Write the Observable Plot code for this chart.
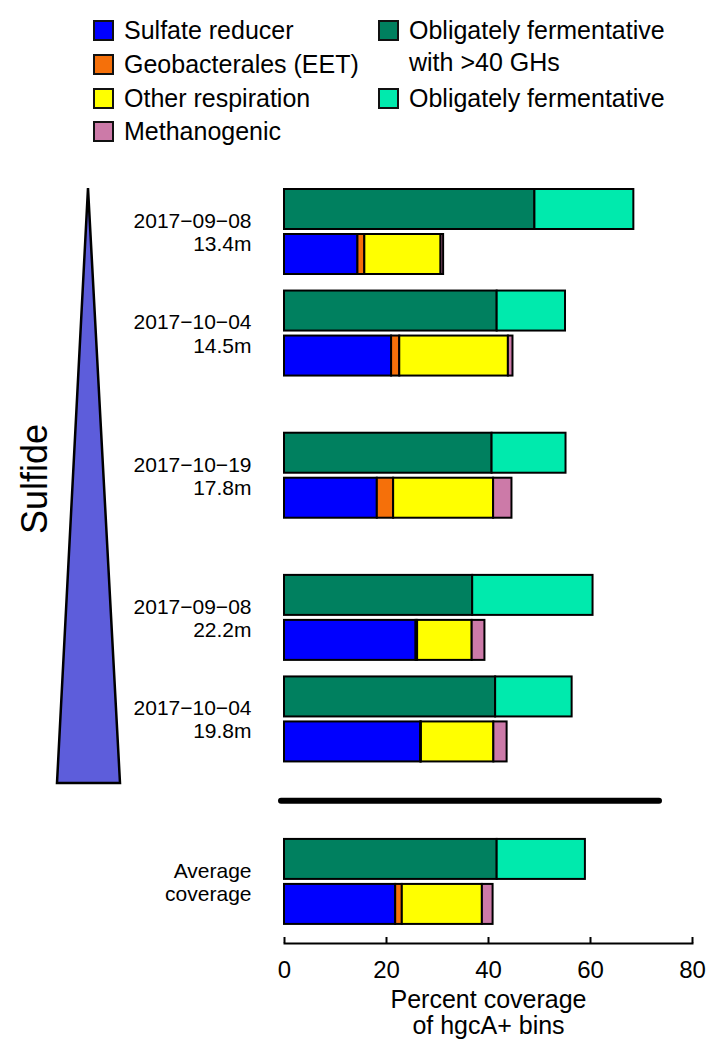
<!DOCTYPE html>
<html>
<head>
<meta charset="utf-8">
<script src="https://cdn.jsdelivr.net/npm/d3@7"></script>
<script src="https://cdn.jsdelivr.net/npm/@observablehq/plot@0.6"></script>
<style>
  html, body { margin: 0; padding: 0; background: #fff; }
  body { font-family: "Liberation Sans", Arial, Helvetica, sans-serif; color: #000; }
  #wrap { position: relative; width: 724px; height: 1050px; overflow: hidden; }
  #legend { position: absolute; left: 0; top: 0; width: 724px; height: 160px; }
  .item { position: absolute; display: flex; align-items: flex-start; font-size: 25px; line-height: 32px; white-space: nowrap; }
  .sw { box-sizing: border-box; width: 21px; height: 21px; border: 2px solid #111; margin-top: 6px; margin-right: 10px; flex: none; }
  #chart { position: absolute; left: 0; top: 160px; }
  #deco { position: absolute; left: 0; top: 0; z-index: 2; pointer-events: none; }
</style>
</head>
<body>
<div id="wrap">
  <div id="legend"></div>
  <div id="chart"></div>
  <svg id="deco" width="724" height="1050"></svg>
</div>
<script>
// ---------- data ----------
const groupLabels = [
  "2017\u221209\u221208\n13.4m",
  "2017\u221210\u221204\n14.5m",
  "2017\u221210\u221219\n17.8m",
  "2017\u221209\u221208\n22.2m",
  "2017\u221210\u221204\n19.8m",
  "Average\ncoverage"
];
const respCategories = ["Sulfate reducer", "Geobacterales (EET)", "Other respiration", "Methanogenic"];
const fermCategories = ["Obligately fermentative with >40 GHs", "Obligately fermentative"];

const sulfateReducer   = [14.4, 21.0, 18.2, 25.8, 26.7, 21.8];
const geobacterales    = [1.35, 1.6, 3.2, 0.3, 0.15, 1.3];
const otherRespiration = [14.95, 21.3, 19.6, 10.7, 14.2, 15.7];
const methanogenic     = [0.5, 0.9, 3.6, 2.5, 2.6, 2.1];
const fermentativeGH40 = [49.1, 41.7, 40.7, 36.9, 41.4, 41.7];
const fermentative     = [19.4, 13.4, 14.5, 23.6, 15.0, 17.3];

const xTicks = [0, 20, 40, 60, 80];
const xTitle = "Percent coverage\nof hgcA+ bins";
const sideLabel = "Sulfide";

const categoryColors = ["#0000ff", "#f5700a", "#ffff00", "#cc7aa8", "#00805f", "#00eaad"];

// ---------- tables ----------
const respSeries = [sulfateReducer, geobacterales, otherRespiration, methanogenic];
const fermSeries = [fermentativeGH40, fermentative];
const respRows = [], fermRows = [];
groupLabels.forEach((g, i) => {
  respCategories.forEach((c, k) => respRows.push({group: g, category: c, value: respSeries[k][i]}));
  fermCategories.forEach((c, k) => fermRows.push({group: g, category: c, value: fermSeries[k][i]}));
});

// ---------- y layout (band slots with spacers) ----------
const spacerCounts = [4, 6, 6, 4, 7];
const yDomain = [];
groupLabels.forEach((g, i) => {
  yDomain.push(g);
  if (i < spacerCounts.length) for (let j = 0; j < spacerCounts[i]; j++) yDomain.push(`gap-${i}-${j}`);
});
const separatorSlot = "gap-4-3";
const step = 20.31;
const r0 = 71.5 - step / 2;
const r1 = r0 + yDomain.length * step;

// ---------- legend ----------
const legendItems = [
  {label: "Sulfate reducer", color: 0, left: 93, top: 14},
  {label: "Geobacterales (EET)", color: 1, left: 93, top: 48},
  {label: "Other respiration", color: 2, left: 93, top: 82},
  {label: "Methanogenic", color: 3, left: 93, top: 115},
  {label: "Obligately fermentative<br>with &gt;40 GHs", color: 4, left: 378, top: 14},
  {label: "Obligately fermentative", color: 5, left: 378, top: 82}
];
const legend = document.getElementById("legend");
legendItems.forEach(it => {
  const d = document.createElement("div");
  d.className = "item";
  d.style.left = it.left + "px";
  d.style.top = it.top + "px";
  d.innerHTML = `<span class="sw" style="background:${categoryColors[it.color]}"></span><span>${it.label}</span>`;
  legend.appendChild(d);
});

// ---------- chart ----------
const font = "'Liberation Sans', Arial, Helvetica, sans-serif";
const plot = Plot.plot({
  width: 724,
  height: 890,
  marginLeft: 284,
  marginRight: 32,
  marginTop: 0,
  marginBottom: 107,
  style: {fontFamily: font, fontSize: "21px", color: "#000", background: "transparent"},
  x: {domain: [0, 80], axis: null},
  y: {type: "band", domain: yDomain, range: [r0, r1], padding: 0, round: false, axis: null},
  color: {domain: [...respCategories, ...fermCategories], range: categoryColors},
  marks: [
    Plot.barX(fermRows, Plot.stackX({
      x: "value", y: "group", fill: "category", z: "category", order: fermCategories,
      stroke: "#000", strokeWidth: 2,
      insetTop: step / 2 - 42.5, insetBottom: step / 2 + 2.5
    })),
    Plot.barX(respRows, Plot.stackX({
      x: "value", y: "group", fill: "category", z: "category", order: respCategories,
      stroke: "#000", strokeWidth: 2,
      insetTop: step / 2 + 2.5, insetBottom: step / 2 - 42.5
    })),
    Plot.text(groupLabels, {
      y: d => d, text: d => d, frameAnchor: "left", textAnchor: "end",
      dx: -33, fontSize: 21, lineHeight: 1.1, fill: "#000"
    }),
    Plot.ruleY([separatorSlot], {y: d => d, stroke: "#000", strokeWidth: 6, strokeLinecap: "round", insetLeft: -3, insetRight: 33}),
    Plot.frame({anchor: "bottom", stroke: "#000", strokeWidth: 2}),
    Plot.ruleX(xTicks, {x: d => d, insetTop: 777, stroke: "#000", strokeWidth: 2}),
    Plot.axisX({ticks: xTicks, tickSize: 0, tickPadding: 17, fontSize: 24, label: null}),
    Plot.text([xTitle], {text: d => d, frameAnchor: "bottom", lineAnchor: "top", dy: 46, fontSize: 25, lineHeight: 1.04, fill: "#000"})
  ]
});
document.getElementById("chart").appendChild(plot);

// ---------- sulfide gradient triangle ----------
const deco = d3.select("#deco");
deco.append("polygon")
  .attr("points", "88,188 57,783 120,783")
  .attr("fill", "#5d5ddb")
  .attr("stroke", "#000")
  .attr("stroke-width", 2.5)
  .attr("stroke-linejoin", "miter");
deco.append("text")
  .attr("transform", "translate(47,479) rotate(-90)")
  .attr("text-anchor", "middle")
  .attr("font-family", font)
  .attr("font-size", 36)
  .attr("fill", "#000")
  .text(sideLabel);
</script>
</body>
</html>
